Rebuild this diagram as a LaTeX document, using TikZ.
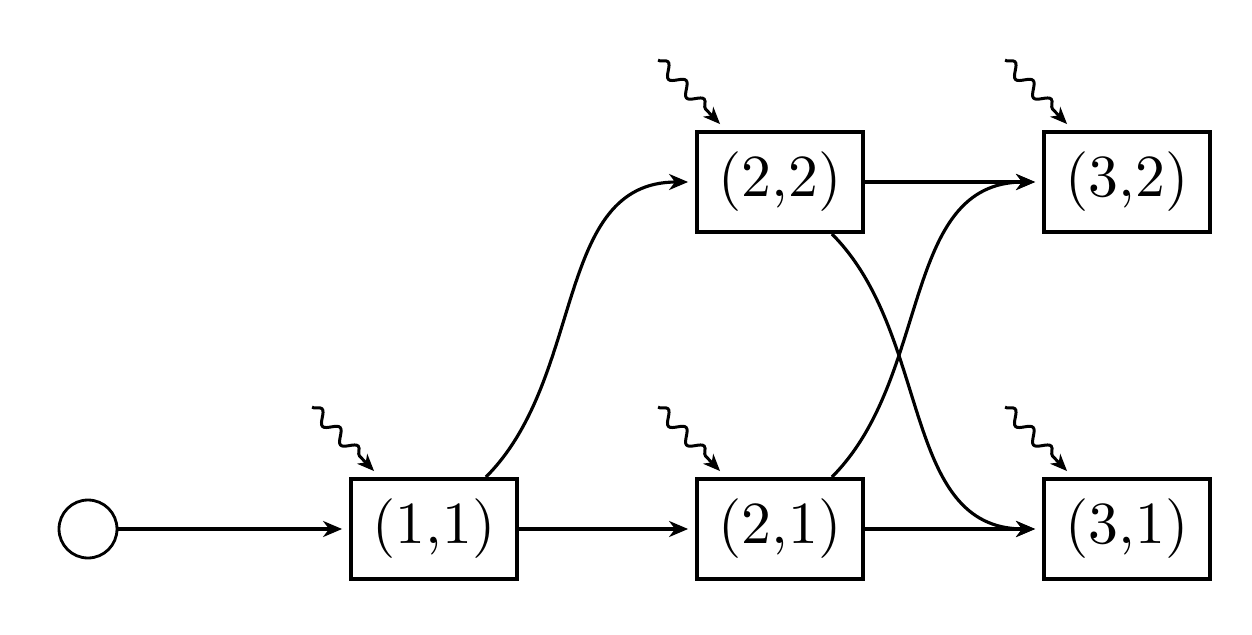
\documentclass[tikz,border=0pt]{standalone}
\usepackage{fontspec}
\newfontfamily\bigrm[Extension=.otf]{lmroman10-regular}
\usetikzlibrary{arrows.meta,decorations.pathmorphing,calc}
\begin{document}
\begin{tikzpicture}[x=0.02cm,y=-0.02cm,
  state/.style={draw,line width=2.2pt,minimum width=3.32cm,minimum height=2cm,inner sep=0pt,font=\bigrm\fontsize{34}{41}\selectfont},
  startnode/.style={draw,circle,line width=1.6pt,minimum size=1.16cm,inner sep=0pt},
  conn/.style={line width=1.8pt,-{Stealth[length=0.38cm,width=0.32cm,inset=0.12cm]},shorten >=0.14cm},
  wiggle/.style={line width=1.7pt,-{Stealth[length=0.34cm,width=0.28cm,inset=0.1cm]},decorate,decoration={snake,amplitude=0.12cm,segment length=0.52cm,post length=0.22cm}}]
\useasboundingbox (0,0) rectangle (1252,635);
\node[startnode] (c0) at (88,529) {};
\node[state] (n11) at (434,529) {(1,1)};
\node[state] (n21) at (780,529) {(2,1)};
\node[state] (n22) at (780,182) {(2,2)};
\node[state] (n31) at (1127,529) {(3,1)};
\node[state] (n32) at (1127,182) {(3,2)};
\foreach \n in {n11,n21,n22,n31,n32}{
  \coordinate (s\n) at ($(\n.north west)+(-37,-70)$);
  \coordinate (t\n) at ($(\n.north west)+(25,-6)$);
  \draw[wiggle] (s\n) -- (t\n);
}
\draw[conn] (c0) -- (n11);
\draw[conn] (n11) -- (n21);
\draw[conn] (n21) -- (n31);
\draw[conn] (n22) -- (n32);
\draw[conn] (n11) to[out=45,in=180] (n22);
\draw[conn] (n21) to[out=45,in=180] (n32);
\draw[conn] (n22) to[out=-45,in=180] (n31);
\end{tikzpicture}
\end{document}
